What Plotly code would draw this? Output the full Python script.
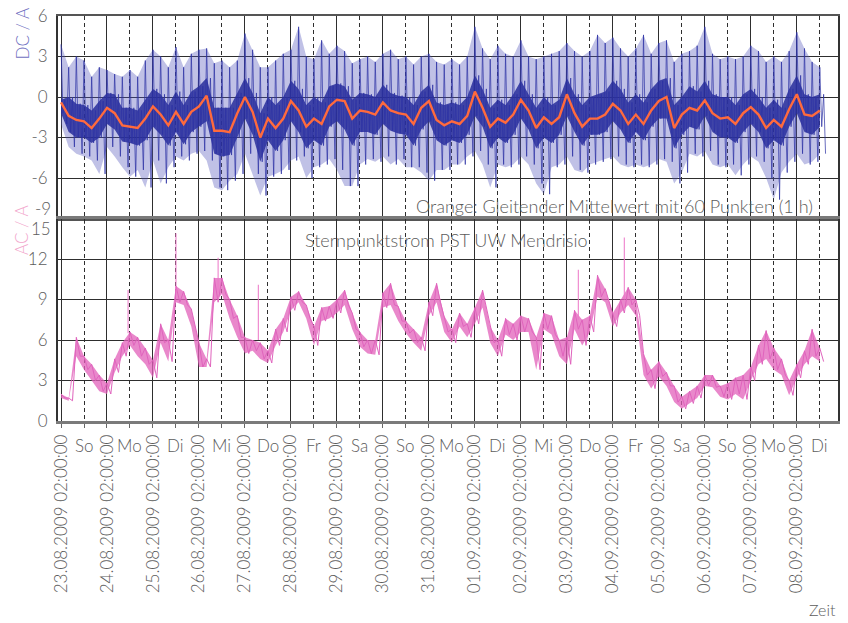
import pandas as pd
import plotly.graph_objects as go
from plotly.subplots import make_subplots

# ---------------- data (4-hour samples, first sample 23.08.2009 02:00) ----------------
start_time = "2009-08-23 02:00"
step_hours = 4

# orange: moving average of DC current (A)
dc_avg = [-0.4, -1.4, -1.7, -1.8, -2.3, -1.6, -0.8, -1.2, -2.1, -2.2,
          -2.3, -1.6, -0.7, -1.3, -2.1, -1.1, -2.0, -1.1, -0.7, 0.1,
          -2.5, -2.5, -2.6, -1.2, 0.0, -1.1, -3.0, -1.6, -2.3, -1.6,
          -0.3, -1.0, -2.2, -1.6, -2.0, -0.7, -0.2, -0.3, -1.6, -1.0,
          -1.1, -1.3, -0.4, -1.0, -1.2, -1.3, -2.0, -0.8, -0.3, -1.7,
          -2.1, -1.8, -2.0, -1.4, 0.4, -0.8, -2.2, -1.6, -1.9, -1.3,
          -0.2, -1.0, -2.3, -1.5, -2.0, -1.5, 0.2, -1.2, -2.2, -1.6,
          -1.6, -1.3, -0.5, -1.0, -2.0, -1.3, -2.0, -1.0, -0.3, 0.0,
          -2.3, -1.3, -0.8, -1.0, -0.25, -1.2, -1.6, -1.5, -2.0, -1.2,
          -0.75, -1.3, -2.3, -1.7, -2.2, -0.9, 0.2, -1.3, -1.4, -1.0]

# blue: DC current spike extremes per sample window (A)
dc_hi = [3.9, 2.2, 3.0, 2.7, 1.5, 2.2, 2.0, 1.7, 1.5, 2.0,
         1.5, 2.7, 3.5, 3.0, 2.2, 3.7, 2.2, 3.2, 3.5, 3.6,
         2.5, 2.7, 2.2, 2.7, 4.7, 3.5, 2.2, 2.2, 2.7, 3.2,
         3.5, 5.2, 3.0, 2.8, 4.2, 3.2, 3.8, 3.4, 2.5, 2.8,
         3.0, 2.6, 3.2, 3.5, 2.8, 3.0, 2.4, 3.0, 3.2, 2.6,
         2.4, 2.8, 2.4, 3.0, 5.2, 3.6, 2.8, 3.8, 3.2, 3.0,
         4.2, 3.0, 2.8, 3.0, 3.2, 3.4, 4.0, 3.4, 3.0, 3.4,
         4.6, 4.0, 4.4, 3.6, 3.0, 3.6, 4.6, 3.2, 4.0, 4.2,
         2.6, 3.2, 3.4, 3.8, 5.2, 3.2, 2.8, 3.0, 2.8, 3.0,
         3.8, 3.4, 2.6, 3.0, 2.6, 3.4, 4.8, 3.6, 2.6, 2.2]
dc_lo = [-2.0, -3.7, -4.2, -4.4, -4.7, -5.7, -3.7, -4.4, -5.2, -5.9,
         -5.4, -6.7, -4.7, -6.4, -5.2, -4.4, -4.7, -4.2, -4.0, -4.7,
         -6.7, -6.9, -6.2, -5.7, -4.2, -5.7, -7.3, -5.9, -5.7, -5.4,
         -4.7, -4.4, -6.0, -5.2, -5.0, -4.6, -5.4, -6.6, -6.6, -5.0,
         -4.6, -4.8, -4.4, -5.0, -4.6, -5.2, -5.2, -5.6, -6.2, -5.4,
         -5.4, -5.0, -5.0, -4.4, -4.0, -5.0, -6.7, -5.0, -5.2, -5.0,
         -4.4, -5.0, -6.4, -7.2, -5.2, -5.0, -4.4, -5.4, -5.6, -5.0,
         -4.8, -4.6, -4.4, -5.0, -5.2, -5.0, -5.2, -5.0, -4.6, -4.8,
         -6.4, -5.6, -4.2, -4.4, -4.0, -5.0, -5.2, -5.0, -5.8, -5.0,
         -4.4, -4.8, -6.0, -7.6, -5.6, -4.8, -4.2, -5.0, -4.8, -4.2]

# blue: dense core band of the DC current (A)
dc_core_hi = [-0.2, 0.0, -0.5, -0.6, -1.0, -0.3, 0.3, 0.2, -0.8, -0.8,
              -1.0, -0.2, 0.6, 0.2, -0.6, 0.4, -0.6, 0.4, 0.8, 1.4,
              -0.8, -0.8, -0.8, 0.3, 1.4, 0.3, -1.2, 0.0, -0.6, 0.0,
              1.2, 0.6, -0.6, 0.0, -0.4, 0.8, 1.0, 0.8, -0.2, 0.3,
              0.2, 0.0, 0.9, 0.3, 0.1, 0.0, -0.6, 0.4, 0.9, -0.4,
              -0.6, -0.4, -0.6, 0.0, 1.6, 0.6, -0.8, -0.2, -0.6, 0.2,
              1.2, 0.2, -0.8, 0.0, -0.6, -0.2, 1.4, 0.2, -0.6, 0.0,
              0.2, 0.4, 1.2, 0.6, -0.4, 0.2, -0.4, 0.6, 1.2, 1.4,
              -0.6, 0.0, 0.8, 0.4, 1.2, 0.2, 0.0, 0.0, -0.6, 0.2,
              0.6, 0.0, -0.8, -0.2, -0.8, 0.6, 1.6, 0.2, 0.0, 0.2]
dc_core_lo = [-1.2, -2.6, -3.0, -3.0, -3.4, -3.0, -2.0, -2.4, -3.3, -3.4,
              -3.6, -3.2, -2.2, -2.8, -3.6, -2.6, -3.5, -2.6, -2.2, -1.8,
              -4.2, -4.4, -4.3, -3.0, -1.6, -2.8, -4.8, -3.2, -4.0, -3.2,
              -1.8, -2.6, -3.8, -3.2, -3.6, -2.2, -1.8, -2.4, -3.6, -2.6,
              -2.6, -2.8, -2.0, -2.5, -2.7, -2.8, -3.6, -2.4, -1.8, -3.2,
              -3.6, -3.2, -3.4, -2.8, -1.4, -2.2, -3.8, -3.0, -3.4, -2.8,
              -1.6, -2.4, -3.8, -3.0, -3.4, -2.8, -1.4, -2.6, -3.6, -2.8,
              -2.8, -2.6, -1.8, -2.4, -3.4, -2.6, -3.2, -2.2, -1.6, -1.6,
              -3.8, -2.8, -2.2, -2.4, -1.4, -2.6, -3.0, -3.0, -3.4, -2.6,
              -2.0, -2.6, -3.8, -3.2, -3.6, -2.2, -1.2, -2.6, -2.8, -2.2]

# pink: AC star-point current band (A)
ac_hi = [2.0, 1.7, 6.2, 4.8, 4.2, 3.4, 2.8, 4.6, 5.8, 6.6,
         6.2, 5.4, 4.5, 7.2, 6.0, 10.0, 9.6, 8.3, 5.8, 4.6,
         10.6, 10.6, 9.0, 7.8, 6.2, 6.0, 5.8, 5.2, 6.8, 7.6,
         9.2, 9.6, 8.6, 7.0, 8.4, 8.5, 9.0, 9.7, 8.0, 6.6,
         6.0, 6.0, 9.5, 10.2, 8.5, 7.4, 6.8, 6.2, 8.8, 10.2,
         7.8, 6.8, 8.0, 7.2, 8.4, 9.7, 7.0, 6.0, 7.6, 7.2,
         7.8, 7.6, 6.2, 8.0, 7.8, 6.0, 6.2, 8.2, 7.5, 7.8,
         10.8, 9.8, 8.0, 9.0, 9.9, 9.0, 5.0, 3.8, 4.4, 3.6,
         2.6, 1.8, 2.2, 2.6, 3.4, 3.4, 2.6, 2.8, 3.2, 3.4,
         4.0, 5.6, 6.7, 5.4, 4.6, 3.0, 4.2, 5.2, 6.8, 5.4]
ac_lo = [1.7, 1.5, 4.8, 3.8, 3.0, 2.2, 2.0, 3.6, 4.8, 5.6,
         4.8, 4.2, 3.2, 5.8, 4.4, 8.8, 8.6, 7.0, 4.0, 4.0,
         8.8, 9.4, 7.6, 6.2, 5.0, 5.2, 4.6, 4.3, 5.6, 6.6,
         8.2, 8.8, 7.6, 5.6, 7.4, 7.6, 8.0, 8.6, 6.8, 5.5,
         5.0, 4.9, 8.4, 8.6, 7.4, 6.5, 5.8, 5.2, 7.8, 8.8,
         6.6, 5.8, 7.0, 6.2, 7.2, 8.4, 5.8, 4.8, 6.4, 6.0,
         6.6, 6.6, 3.8, 6.8, 6.4, 4.8, 4.2, 6.8, 5.6, 6.6,
         9.2, 8.8, 7.0, 8.0, 8.6, 7.8, 3.4, 2.4, 3.3, 2.6,
         1.4, 0.9, 1.3, 1.7, 2.6, 2.5, 1.8, 1.6, 2.0, 1.6,
         3.0, 4.2, 4.6, 3.8, 3.4, 1.9, 3.2, 4.2, 4.8, 4.4]

# pink: isolated AC spikes (time, foot, peak)
ac_spike_time = ["2009-08-24 13:00", "2009-08-25 14:00", "2009-08-26 12:00",
                 "2009-08-27 09:00", "2009-09-03 08:00", "2009-09-04 08:00"]
ac_spike_foot = [6.5, 9.5, 9.5, 6.0, 7.5, 9.0]
ac_spike_peak = [9.7, 13.9, 12.1, 10.1, 11.2, 13.6]

# axis labels
day_dates = ["23.08.2009", "24.08.2009", "25.08.2009", "26.08.2009", "27.08.2009",
             "28.08.2009", "29.08.2009", "30.08.2009", "31.08.2009", "01.09.2009",
             "02.09.2009", "03.09.2009", "04.09.2009", "05.09.2009", "06.09.2009",
             "07.09.2009", "08.09.2009"]
day_names = ["So", "Mo", "Di", "Mi", "Do", "Fr", "Sa", "So", "Mo", "Di",
             "Mi", "Do", "Fr", "Sa", "So", "Mo", "Di"]
tick_time = "02:00:00"
dc_ticks = [-9, -6, -3, 0, 3, 6]
ac_ticks = [0, 3, 6, 9, 12, 15]

# ---------------- build ----------------
t = pd.date_range(start_time, periods=len(dc_avg), freq=f"{step_hours}h")


def seq(times, cols):
    """interleave several value columns along time inside each sample window"""
    xs, ys = [], []
    n = len(cols)
    step = pd.Timedelta(hours=step_hours / n)
    for i, ti in enumerate(times):
        for j, c in enumerate(cols):
            xs.append(ti + j * step)
            ys.append(c[i])
    return xs, ys


def band(times, upper, lower):
    return list(times) + list(times[::-1]), list(upper) + list(lower[::-1])


fmt = "%Y-%m-%d %H:%M:%S"
day0 = pd.to_datetime(day_dates, format="%d.%m.%Y")
major = day0 + pd.Timedelta(hours=2)
minor = day0 + pd.Timedelta(hours=14)
major_s = [d.strftime(fmt) for d in major]
minor_s = [d.strftime(fmt) for d in minor]
tick_text = [f"{d} {tick_time}" for d in day_dates]

FONT = "Lato"
GREY = "#5c5c5c"
GRID = "#2e2e2e"

fig = make_subplots(rows=2, cols=1, shared_xaxes=True, vertical_spacing=0)

# DC spike haze
hx, hy = band(t, dc_hi, dc_lo)
fig.add_trace(go.Scatter(x=hx, y=hy, fill="toself", mode="lines", line=dict(width=0),
                         fillcolor="rgba(80,82,185,0.36)", hoverinfo="skip",
                         showlegend=False), row=1, col=1)
# DC core band
cx, cy = band(t, dc_core_hi, dc_core_lo)
fig.add_trace(go.Scatter(x=cx, y=cy, fill="toself", mode="lines", line=dict(width=0),
                         fillcolor="rgba(40,46,155,0.85)", hoverinfo="skip",
                         showlegend=False), row=1, col=1)
# DC noisy trace: spike top, core bottom, core top, spike bottom in each window
bx, by = seq(t, [dc_hi, dc_core_lo, dc_core_hi, dc_lo])
fig.add_trace(go.Scatter(x=bx, y=by, mode="lines",
                         line=dict(width=0.9, color="rgba(45,50,165,0.80)"),
                         showlegend=False), row=1, col=1)
# moving average
fig.add_trace(go.Scatter(x=t, y=dc_avg, mode="lines",
                         line=dict(width=2.4, color="#ff6a3d"),
                         showlegend=False), row=1, col=1)

# AC band
ax1, ay1 = band(t, ac_hi, ac_lo)
fig.add_trace(go.Scatter(x=ax1, y=ay1, fill="toself", mode="lines",
                         line=dict(width=0), fillcolor="rgba(226,96,186,0.75)",
                         hoverinfo="skip", showlegend=False), row=2, col=1)
ax_, ay_ = seq(t, [ac_hi, ac_lo])
fig.add_trace(go.Scatter(x=ax_, y=ay_, mode="lines",
                         line=dict(width=1.0, color="#e063bd"),
                         showlegend=False), row=2, col=1)
sx, sy = [], []
for st, f, p in zip(ac_spike_time, ac_spike_foot, ac_spike_peak):
    sx += [st, st, None]
    sy += [f, p, None]
fig.add_trace(go.Scatter(x=sx, y=sy, mode="lines",
                         line=dict(width=1.2, color="rgba(236,120,200,0.85)"),
                         showlegend=False), row=2, col=1)

xrange_ = ["2009-08-23 00:26", "2009-09-08 23:30"]
common_x = dict(type="date", range=xrange_, tickmode="array", tickvals=major_s,
                showgrid=True, gridcolor=GRID, gridwidth=1.3, zeroline=False,
                ticks="outside", ticklen=4, tickcolor="#666", automargin=False,
                minor=dict(tickvals=minor_s, showgrid=True, gridcolor=GRID,
                           griddash="4px,3px", gridwidth=1.1,
                           ticks="outside", ticklen=4, tickcolor="#666"),
                showline=True, linecolor="#555", linewidth=1.5, mirror=True)
fig.update_xaxes(**common_x)
fig.update_xaxes(showticklabels=False, row=1, col=1)
fig.update_xaxes(ticktext=tick_text, tickangle=-90,
                 tickfont=dict(family=FONT, size=17, color=GREY, weight=300),
                 linecolor="#7a7a7a", linewidth=2.5, row=2, col=1)

common_y = dict(showgrid=True, gridcolor=GRID, gridwidth=1.3, zeroline=False,
                showline=True, linecolor="#333", linewidth=2, mirror=True,
                ticks="", ticklabelstandoff=5, automargin=False,
                tickfont=dict(family=FONT, size=17, color=GREY, weight=300))
fig.update_yaxes(**common_y)
fig.update_yaxes(range=[min(dc_ticks), max(dc_ticks)], tickvals=dc_ticks,
                 ticktext=["" if v == min(dc_ticks) else str(v) for v in dc_ticks],
                 row=1, col=1)
fig.update_yaxes(range=[min(ac_ticks), max(ac_ticks)], tickvals=ac_ticks,
                 ticktext=["" if v == max(ac_ticks) else str(v) for v in ac_ticks],
                 row=2, col=1)

ann = []
lab_font = dict(family=FONT, size=17, color=GREY, weight=300)
ann.append(dict(text=str(min(dc_ticks)), xref="paper", yref="y", x=0, y=min(dc_ticks),
                xanchor="right", yanchor="middle", xshift=-5, yshift=10,
                showarrow=False, font=lab_font))
ann.append(dict(text=str(max(ac_ticks)), xref="paper", yref="y2", x=0, y=max(ac_ticks),
                xanchor="right", yanchor="middle", xshift=-5, yshift=-10,
                showarrow=False, font=lab_font))
for d, n in zip(minor_s, day_names):
    ann.append(dict(text=n, xref="x2", yref="paper", x=d, y=0, xanchor="center",
                    yanchor="top", yshift=-12, showarrow=False,
                    font=dict(family=FONT, size=17, color=GREY, weight=300)))
ann.append(dict(text="DC / A", xref="paper", yref="paper", x=-0.046, y=0.957,
                textangle=-90, showarrow=False, xanchor="center", yanchor="middle",
                font=dict(family=FONT, size=17, color="#6f6fbf", weight=300)))
ann.append(dict(text="AC / A", xref="paper", yref="paper", x=-0.046, y=0.472,
                textangle=-90, showarrow=False, xanchor="center", yanchor="middle",
                font=dict(family=FONT, size=17, color="#f2a6cc", weight=300)))
ann.append(dict(text="Orange: Gleitender Mittelwert mit 60 Punkten (1 h)",
                xref="paper", yref="paper", x=0.970, y=0.530, xanchor="right",
                yanchor="middle", showarrow=False,
                font=dict(family=FONT, size=18, color=GREY, weight=300)))
ann.append(dict(text="Sternpunktstrom PST UW Mendrisio",
                xref="paper", yref="paper", x=0.314, y=0.447, xanchor="left",
                yanchor="middle", showarrow=False,
                font=dict(family=FONT, size=18, color=GREY, weight=300)))
ann.append(dict(text="Zeit", xref="paper", yref="paper", x=1.0, y=-0.466,
                xanchor="right", yanchor="middle", showarrow=False,
                font=dict(family=FONT, size=16, color=GREY, weight=300)))

fig.update_layout(width=848, height=623, margin=dict(l=58, r=10, t=16, b=202),
                  plot_bgcolor="white", paper_bgcolor="white",
                  showlegend=False, annotations=ann)

fig.write_html("out.html", config={"displayModeBar": False},
               post_script="document.body.style.margin='0';"
                           "document.body.style.overflow='hidden';")
